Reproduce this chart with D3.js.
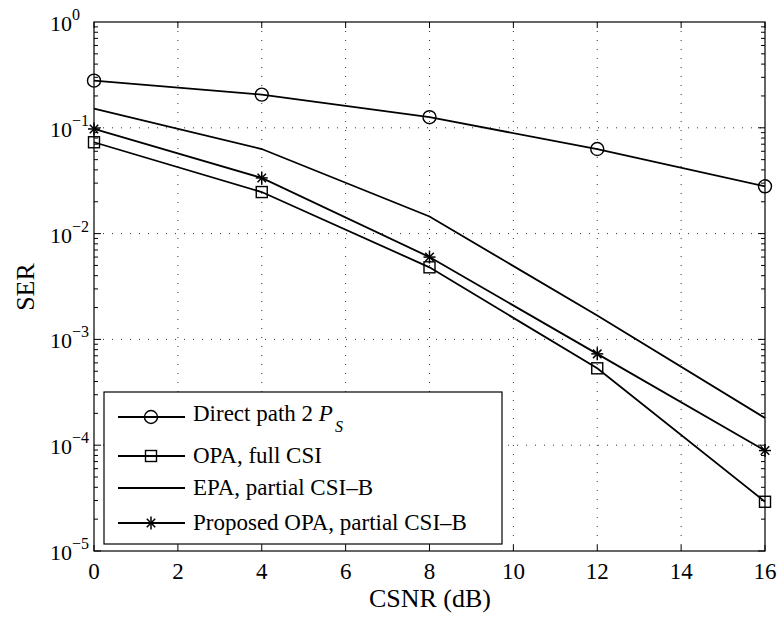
<!DOCTYPE html>
<html><head><meta charset="utf-8">
<script src="https://cdn.jsdelivr.net/npm/d3@7"></script>
<style>body{margin:0;background:#fff} text{font-family:"Liberation Serif","Times New Roman",Times,"DejaVu Serif",serif}</style>
</head><body><svg id="c" width="781" height="617"></svg>
<script>
const xValues = [0, 4, 8, 12, 16];
const directPath = [0.279, 0.206, 0.126, 0.063, 0.028];
const opaFull = [0.073, 0.0247, 0.0048, 5.33e-4, 2.92e-5];
const epaPartial = [0.152, 0.063, 0.0145, 1.68e-3, 1.81e-4];
const proposedOpa = [0.0975, 0.0336, 0.006, 7.3e-4, 8.9e-5];
const xTicks = [0, 2, 4, 6, 8, 10, 12, 14, 16];
const yDecades = [0, -1, -2, -3, -4, -5];
const seriesNames = ["Direct path 2 ", "OPA, full CSI", "EPA, partial CSI\u2013B", "Proposed OPA, partial CSI\u2013B"];

const FF = "'Liberation Serif','Times New Roman',Times,'DejaVu Serif',serif";
const svg = d3.select("#c");
const L = 94, R = 765, T = 22, B = 551;
const x = d3.scaleLinear().domain([0, 16]).range([L, R]);
const y = d3.scaleLog().domain([1e-5, 1]).range([B, T]);

// grid
const g = svg.append("g");
xTicks.slice(1, -1).forEach(t => g.append("line").attr("x1", x(t)).attr("x2", x(t)).attr("y1", T).attr("y2", B)
  .attr("stroke", "#000").attr("stroke-width", 0.8).attr("stroke-dasharray", "1,8"));
yDecades.slice(1, -1).forEach(d => g.append("line").attr("x1", L).attr("x2", R).attr("y1", y(Math.pow(10, d))).attr("y2", y(Math.pow(10, d)))
  .attr("stroke", "#000").attr("stroke-width", 0.8).attr("stroke-dasharray", "1,8"));

// frame
svg.append("rect").attr("x", L).attr("y", T).attr("width", R - L).attr("height", B - T).attr("fill", "none").attr("stroke", "#000").attr("stroke-width", 1.2);

// ticks
const tk = svg.append("g").attr("stroke", "#000").attr("stroke-width", 1);
xTicks.forEach(t => {
  tk.append("line").attr("x1", x(t)).attr("x2", x(t)).attr("y1", B).attr("y2", B - 6);
  tk.append("line").attr("x1", x(t)).attr("x2", x(t)).attr("y1", T).attr("y2", T + 6);
});
for (let d = -5; d < 0; d++) {
  for (let m = 1; m < 10; m++) {
    const v = m * Math.pow(10, d);
    const len = m === 1 ? 7 : 4;
    tk.append("line").attr("x1", L).attr("x2", L + len).attr("y1", y(v)).attr("y2", y(v));
    tk.append("line").attr("x1", R).attr("x2", R - len).attr("y1", y(v)).attr("y2", y(v));
  }
}

// tick labels
xTicks.forEach(t => svg.append("text").attr("x", x(t)).attr("y", 579).attr("text-anchor", "middle")
  .attr("font-family", FF).attr("font-size", 23).text(t));
yDecades.forEach(d => {
  const yy = y(Math.pow(10, d));
  svg.append("text").attr("x", 50).attr("y", yy + 9).attr("font-family", FF).attr("font-size", 22).text("10");
  svg.append("text").attr("x", 72).attr("y", yy - 2).attr("font-family", FF).attr("font-size", 16).text(d === 0 ? "0" : "\u2212" + (-d));
});

svg.append("text").attr("x", 430).attr("y", 607).attr("text-anchor", "middle").attr("font-family", FF).attr("font-size", 26).text("CSNR (dB)");
svg.append("text").attr("transform", "translate(34,287) rotate(-90)").attr("text-anchor", "middle").attr("font-family", FF).attr("font-size", 26).text("SER");

// markers
function marker(sel, type, cx, cy) {
  if (type === "circle") sel.append("circle").attr("cx", cx).attr("cy", cy).attr("r", 6.5).attr("fill", "none").attr("stroke", "#000").attr("stroke-width", 1.4);
  else if (type === "square") sel.append("rect").attr("x", cx - 5.5).attr("y", cy - 5.5).attr("width", 11).attr("height", 11).attr("fill", "none").attr("stroke", "#000").attr("stroke-width", 1.4);
  else if (type === "star") {
    [[0, 6.5], [90, 6], [45, 6], [135, 6]].forEach(([a, r]) => {
      const rad = a * Math.PI / 180;
      sel.append("line").attr("x1", cx - r * Math.sin(rad)).attr("y1", cy - r * Math.cos(rad))
        .attr("x2", cx + r * Math.sin(rad)).attr("y2", cy + r * Math.cos(rad)).attr("stroke", "#000").attr("stroke-width", 1.5);
    });
  }
}

const series = [
  {v: directPath, m: "circle"},
  {v: opaFull, m: "square"},
  {v: epaPartial, m: null},
  {v: proposedOpa, m: "star"}
];
const line = d3.line().x((d, i) => x(xValues[i])).y(d => y(d));
const plot = svg.append("g");
series.forEach(s => {
  plot.append("path").attr("d", line(s.v)).attr("fill", "none").attr("stroke", "#000").attr("stroke-width", 1.8);
  if (s.m) s.v.forEach((d, i) => marker(plot, s.m, x(xValues[i]), y(d)));
});

// legend
const lg = svg.append("g");
lg.append("rect").attr("x", 104).attr("y", 392).attr("width", 398).attr("height", 152).attr("fill", "#fff").attr("stroke", "#000").attr("stroke-width", 1.2);
const rows = [417, 456, 488, 523];
series.forEach((s, i) => {
  lg.append("line").attr("x1", 118).attr("x2", 185).attr("y1", rows[i]).attr("y2", rows[i]).attr("stroke", "#000").attr("stroke-width", 1.8);
  if (s.m) marker(lg, s.m, 151, rows[i]);
  const t = lg.append("text").attr("x", 193).attr("y", rows[i] + (i === 0 ? 4 : 7)).attr("font-family", FF).attr("font-size", 23).text(seriesNames[i]);
  if (i === 0) {
    t.append("tspan").attr("font-style", "italic").text("P");
    t.append("tspan").attr("font-style", "italic").attr("font-size", 16).attr("dx", 2).attr("dy", 11).text("S");
  }
});
</script></body></html>
